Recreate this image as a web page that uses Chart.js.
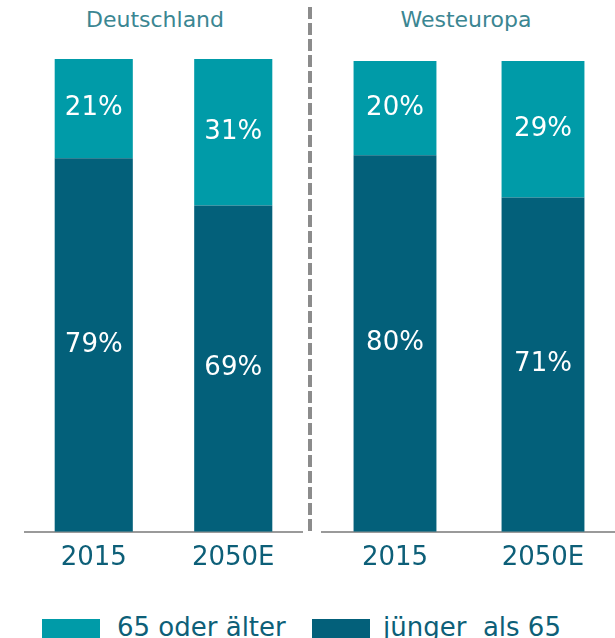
<!DOCTYPE html>
<html>
<head>
<meta charset="utf-8">
<script src="https://cdn.jsdelivr.net/npm/chart.js@4"></script>
<style>
  html, body { margin:0; padding:0; background:#fff; }
  body { width:615px; height:638px; position:relative; overflow:hidden; font-family:"DejaVu Sans", Verdana, sans-serif; }
  .box { position:absolute; }
  .title { position:absolute; top:6px; width:200px; text-align:center; font-size:22px; color:#3b8692; line-height:28px; }
  .dash { position:absolute; left:308px; top:7px; width:4px; height:526px;
          background: repeating-linear-gradient(to bottom, #8c8c8c 0, #8c8c8c 12px, transparent 12px, transparent 16px); }
  .lg-sq { position:absolute; top:619px; width:58px; height:22px; }
  .lg-tx { position:absolute; top:611px; font-size:26px; line-height:32px; color:#0d5f78; white-space:pre; }
</style>
</head>
<body>
<div class="title" style="left:55px">Deutschland</div>
<div class="title" style="left:366px">Westeuropa</div>
<div class="dash"></div>
<div class="box" style="left:24px; top:59px; width:279px; height:526px;"><canvas id="c1"></canvas></div>
<div class="box" style="left:321px; top:61px; width:296px; height:524px;"><canvas id="c2"></canvas></div>
<div class="lg-sq" style="left:42px; background:#009ba8"></div>
<div class="lg-tx" style="left:117px">65 oder älter</div>
<div class="lg-sq" style="left:312px; background:#03607a"></div>
<div class="lg-tx" style="left:383px">jünger  als 65</div>
<script>
const categories = ['2015', '2050E'];
const deYoung = [79, 69];
const deOld = [21, 31];
const weYoung = [80, 71];
const weOld = [20, 29];
const seriesNames = ['jünger  als 65', '65 oder älter'];

const DARK = '#03607a';
const LIGHT = '#009ba8';
const TICK = '#0d5f78';

const labelPlugin = {
  id: 'barLabels',
  afterDatasetsDraw(chart) {
    const ctx = chart.ctx;
    ctx.save();
    ctx.fillStyle = '#ffffff';
    ctx.font = '26px "DejaVu Sans"';
    ctx.textAlign = 'center';
    ctx.textBaseline = 'middle';
    chart.data.datasets.forEach((ds, di) => {
      const meta = chart.getDatasetMeta(di);
      meta.data.forEach((bar, i) => {
        const y = (bar.y + bar.base) / 2;
        ctx.fillText(ds.data[i] + '%', bar.x, y);
      });
    });
    ctx.restore();
  }
};

function makeChart(id, young, old) {
  return new Chart(document.getElementById(id), {
    type: 'bar',
    data: {
      labels: categories,
      datasets: [
        { label: seriesNames[0], data: young, backgroundColor: DARK, barPercentage: 0.56, categoryPercentage: 1 },
        { label: seriesNames[1], data: old, backgroundColor: LIGHT, barPercentage: 0.56, categoryPercentage: 1 }
      ]
    },
    options: {
      responsive: true,
      maintainAspectRatio: false,
      animation: false,
      layout: { padding: 0 },
      plugins: { legend: { display: false }, tooltip: { enabled: false } },
      scales: {
        x: {
          stacked: true,
          grid: { display: false, drawTicks: false, tickLength: 0 },
          border: { display: true, color: '#9a9a9a', width: 2 },
          ticks: { color: TICK, font: { family: 'DejaVu Sans', size: 26 }, padding: 11, maxRotation: 0 }
        },
        y: { stacked: true, display: false, min: 0, max: 100 }
      }
    },
    plugins: [labelPlugin]
  });
}
makeChart('c1', deYoung, deOld);
makeChart('c2', weYoung, weOld);
</script>
</body>
</html>
